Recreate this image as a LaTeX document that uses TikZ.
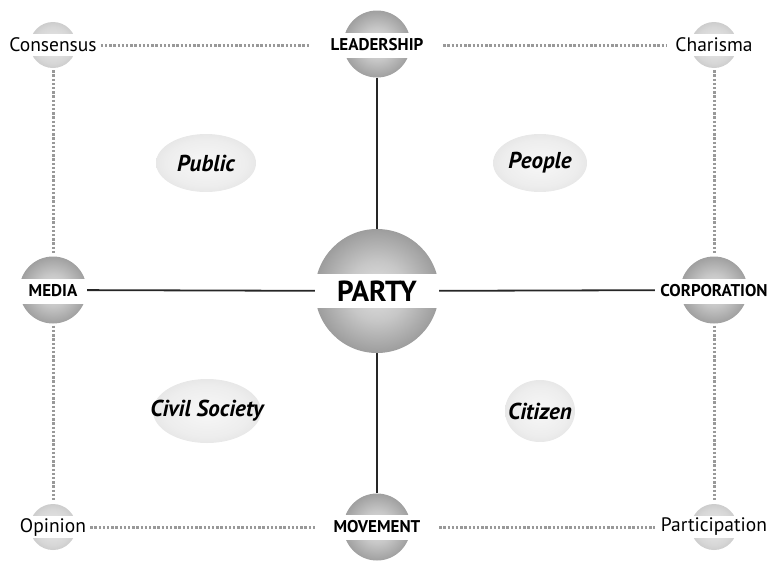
\documentclass[tikz,border=0pt]{standalone}
\usepackage{fontspec}
\setmainfont{PT Sans}
\usetikzlibrary{shapes.geometric,backgrounds}
\pgfdeclareradialshading{bigball}{\pgfpoint{0bp}{0bp}}{gray(0bp)=(0.88); gray(12bp)=(0.78); gray(50bp)=(0.3)}
\pgfdeclareradialshading{midball}{\pgfpoint{0bp}{0bp}}{gray(0bp)=(0.88); gray(12bp)=(0.78); gray(50bp)=(0.33)}
\pgfdeclareradialshading{smallball}{\pgfpoint{0bp}{0bp}}{gray(0bp)=(0.92); gray(20bp)=(0.84); gray(50bp)=(0.62)}
\pgfdeclareradialshading{egg}{\pgfpoint{0bp}{0bp}}{gray(0bp)=(0.97); gray(20bp)=(0.93); gray(50bp)=(0.8)}
\tikzset{
  ballbig/.style={circle, inner sep=0pt, minimum size=124pt, shading=bigball},
  ballmid/.style={circle, inner sep=0pt, minimum size=67pt, shading=midball},
  ballsmall/.style={circle, inner sep=0pt, minimum size=46pt, shading=smallball},
  capslabel/.style={fill=white, inner sep=0pt, minimum height=25pt, text width=#1, align=center, font=\fontsize{17}{19}\selectfont\bfseries},
  plainlabel/.style={fill=white, inner sep=2pt, minimum height=22pt, font=\fontsize{19.5}{22}\selectfont},
  bigcaps/.style={fill=white, inner sep=0pt, minimum height=34pt, text width=124pt, align=center, font=\fontsize{29}{32}\selectfont\bfseries},
  oval/.style={ellipse, inner sep=0pt, shading=egg},
  ovaltext/.style={inner sep=0pt, font=\fontsize{23}{26}\selectfont\bfseries\itshape},
  solidlink/.style={draw=black!85, line width=1.8pt},
  dotlink/.style={draw=black!40, line width=3pt, dash pattern=on 2.4pt off 1.8pt},
}
\begin{document}
\begin{tikzpicture}[x=1pt,y=-1pt]
\useasboundingbox (0,0) rectangle (770,560);
% spheres
\node[ballbig] (partyS) at (377,291) {};
\node[ballmid] (leadS) at (377,44) {};
\node[ballmid] (moveS) at (377,527) {};
\node[ballmid] (mediaS) at (53,290) {};
\node[ballmid] (corpS) at (714,290) {};
\node[ballsmall] (consS) at (53,45) {};
\node[ballsmall] (charS) at (714,45) {};
\node[ballsmall] (opinS) at (53,527) {};
\node[ballsmall] (partS) at (714,527) {};
% labels
\node[bigcaps] (party) at (377,291) {PARTY};
\node[capslabel=104pt] (lead) at (377,45) {LEADERSHIP};
\node[capslabel=96pt] (move) at (377,527) {MOVEMENT};
\node[capslabel=68pt] (media) at (53,291) {MEDIA};
\node[capslabel=118pt] (corp) at (714,291) {CORPORATION};
\node[plainlabel] (cons) at (53,45) {Consensus};
\node[plainlabel] (char) at (714,45) {Charisma};
\node[plainlabel] (opin) at (53,527) {Opinion};
\node[plainlabel] (part) at (714,527) {Participation};
% ovals
\node[oval, minimum width=100pt, minimum height=58pt] (pub) at (206,163) {};
\node[oval, minimum width=94pt, minimum height=58pt] (peop) at (540,163) {};
\node[oval, minimum width=108pt, minimum height=64pt] (civ) at (207,411) {};
\node[oval, minimum width=70pt, minimum height=62pt] (cit) at (540,411) {};
\node[ovaltext] (pubT) at (pub.center) {Public};
\node[ovaltext] (peopT) at (peop.center) {People};
\node[ovaltext] (civT) at (civ.center) {Civil Society};
\node[ovaltext] (citT) at (cit.center) {Citizen};
% connectors
\begin{scope}[on background layer]
\draw[solidlink] (leadS) -- (partyS);
\draw[solidlink] (moveS) -- (partyS);
\draw[solidlink] (mediaS) -- (partyS);
\draw[solidlink] (corpS) -- (partyS);
\draw[dotlink, shorten >=14pt, shorten <=2pt] (cons) -- (lead);
\draw[dotlink, shorten <=14pt, shorten >=6pt] (lead) -- (char);
\draw[dotlink, shorten >=12pt, shorten <=2pt] (opin) -- (move);
\draw[dotlink, shorten <=14pt, shorten >=4pt] (move) -- (part);
\draw[dotlink, shorten <=2pt, shorten >=2pt] (consS) -- (mediaS);
\draw[dotlink, shorten <=2pt, shorten >=2pt] (mediaS) -- (opinS);
\draw[dotlink, shorten <=2pt, shorten >=2pt] (charS) -- (corpS);
\draw[dotlink, shorten <=2pt, shorten >=2pt] (corpS) -- (partS);
\end{scope}
\end{tikzpicture}
\end{document}
